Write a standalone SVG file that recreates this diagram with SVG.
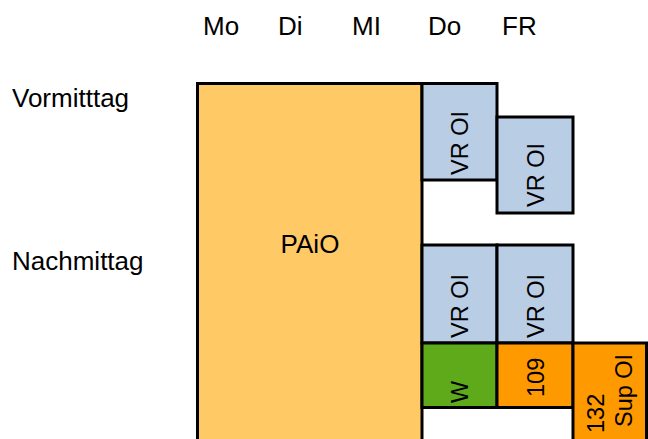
<svg xmlns="http://www.w3.org/2000/svg" width="648" height="439" viewBox="0 0 648 439">
<style>
text{font-family:"Liberation Sans",Arial,sans-serif;font-size:26px;fill:#000}
text.r{font-size:23.5px}
.b{stroke:#000;stroke-width:3}
.blue{fill:#B9CDE5}
.or{fill:#FF9900}
</style>
<rect width="648" height="439" fill="#fff"/>
<g id="headers">
<text x="203" y="35">Mo</text>
<text x="278" y="35">Di</text>
<text x="352" y="35">MI</text>
<text x="428" y="35">Do</text>
<text x="502" y="35">FR</text>
<text x="12" y="107">Vormitttag</text>
<text x="12" y="270">Nachmittag</text>
</g>
<g id="paio">
<rect class="b" x="197.5" y="83.5" width="224.5" height="370" fill="#FFC966"/>
<text x="310" y="253" text-anchor="middle">PAiO</text>
</g>
<g id="do-vm">
<rect class="b blue" x="422" y="83.5" width="75" height="96.5"/>
<text class="r" transform="translate(468,175) rotate(-90)">VR OI</text>
</g>
<g id="fr-vm">
<rect class="b blue" x="497" y="117" width="76" height="96"/>
<text class="r" transform="translate(544,207) rotate(-90)">VR OI</text>
</g>
<g id="do-nm">
<rect class="b blue" x="422" y="245" width="75" height="98"/>
<text class="r" transform="translate(468,338) rotate(-90)">VR OI</text>
</g>
<g id="fr-nm">
<rect class="b blue" x="497" y="245" width="76" height="98"/>
<text class="r" transform="translate(544,338) rotate(-90)">VR OI</text>
</g>
<g id="w">
<rect class="b" x="422" y="343" width="75" height="64.5" fill="#5EAA1A"/>
<text class="r" transform="translate(468,403) rotate(-90)">W</text>
</g>
<g id="r109">
<rect class="b or" x="497" y="343" width="76" height="64.5"/>
<text class="r" transform="translate(544,397) rotate(-90)">109</text>
</g>
<g id="sup">
<rect class="b or" x="573" y="343" width="73.5" height="110"/>
<text class="r" transform="translate(604,433) rotate(-90)">132</text>
<text class="r" transform="translate(632,427) rotate(-90)">Sup OI</text>
</g>
</svg>
